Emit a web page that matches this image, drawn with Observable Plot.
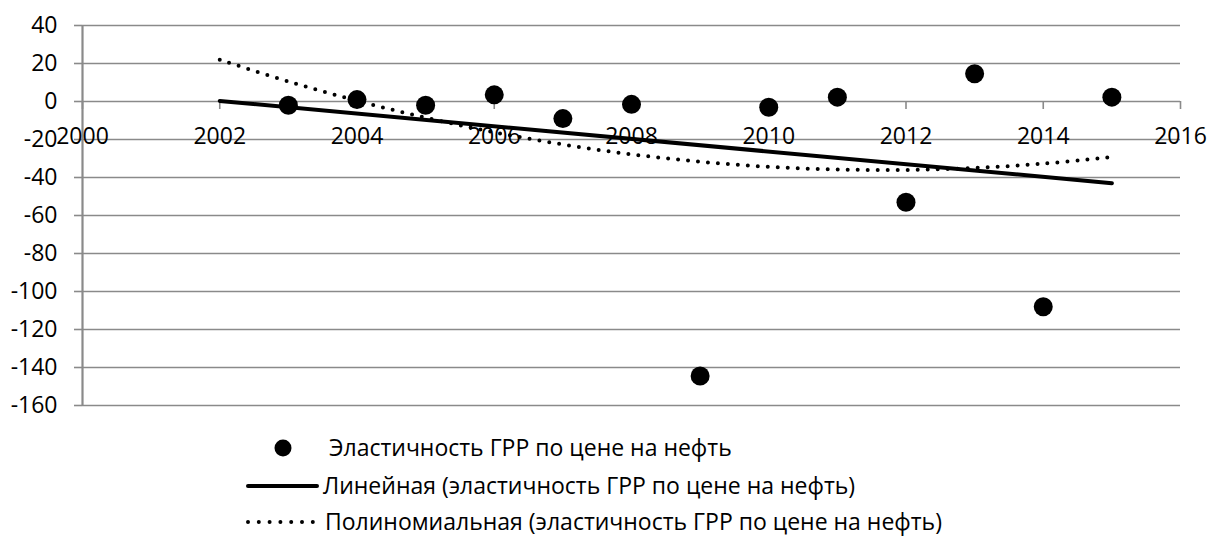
<!DOCTYPE html>
<html>
<head>
<meta charset="utf-8">
<script src="https://cdn.jsdelivr.net/npm/d3@7"></script>
<script src="https://cdn.jsdelivr.net/npm/@observablehq/plot@0.6"></script>
<style>
  html, body { margin: 0; padding: 0; background: #fff; }
  #chart { width: 1210px; height: 536px; position: relative; font-family: "Open Sans", sans-serif; overflow: hidden; }
</style>
</head>
<body>
<div id="chart"></div>
<script>
// Data
const years = [2003, 2004, 2005, 2006, 2007, 2008, 2009, 2010, 2011, 2012, 2013, 2014, 2015];
const elasticity = [-2, 1, -2, 3.5, -9, -1.5, -144.5, -3, 2.3, -53, 14.6, -108, 2.3];

// Linear trendline (endpoints)
const linearYears = [2002, 2015];
const linearValues = [0.3, -43];

// Polynomial trendline
const polyYears = [2002, 2003, 2004, 2005, 2006, 2007, 2008, 2009, 2010, 2011, 2012, 2013, 2014, 2015];
const polyValues = [22, 10.5, 0.4, -8.5, -16.2, -22.6, -27.8, -31.7, -34.4, -35.8, -36, -35, -32.7, -29.2];

const xTicks = [2000, 2002, 2004, 2006, 2008, 2010, 2012, 2014, 2016];
const yTicks = [40, 20, 0, -20, -40, -60, -80, -100, -120, -140, -160];

const legendLabels = [
  "Эластичность ГРР по цене на нефть",
  "Линейная (эластичность ГРР по цене на нефть)",
  "Полиномиальная (эластичность ГРР по цене на нефть)"
];

const points = years.map((y, i) => ({year: y, value: elasticity[i]}));
const linear = linearYears.map((y, i) => ({year: y, value: linearValues[i]}));
const poly = polyYears.map((y, i) => ({year: y, value: polyValues[i]}));

const grid = "#8a8a8a";
const fs = 23;

const plot = Plot.plot({
  width: 1210,
  height: 420,
  marginLeft: 82,
  marginRight: 30,
  marginTop: 25,
  marginBottom: 15,
  style: {fontFamily: "Open Sans, sans-serif", fontSize: fs + "px", color: "#000", background: "#fff"},
  x: {domain: [2000, 2016], axis: null},
  y: {domain: [-160, 40], axis: null},
  marks: [
    Plot.gridY(yTicks, {stroke: grid, strokeOpacity: 1, strokeWidth: 1.6}),
    Plot.axisY(yTicks, {anchor: "left", tickSize: 8, tickPadding: 17, stroke: grid, strokeWidth: 1.6, fill: "#000", fontSize: fs, label: null, tickFormat: d => String(d)}),
    Plot.ruleX([2000], {stroke: grid, strokeWidth: 2.2}),
    Plot.ruleX(xTicks, {x: d => d, y1: 0, y2: 0, insetBottom: -8, stroke: grid, strokeWidth: 1.6}),
    Plot.text(xTicks, {x: d => d, y: 0, text: d => String(d), dy: 35, fontSize: fs, fill: "#000"}),
    Plot.line(linear, {x: "year", y: "value", stroke: "#000", strokeWidth: 4}),
    Plot.line(poly, {x: "year", y: "value", curve: "catmull-rom", stroke: "#000", strokeWidth: 4, strokeDasharray: "0 10", strokeLinecap: "round"}),
    Plot.dot(points, {x: "year", y: "value", r: 9.5, fill: "#000", stroke: "none"})
  ]
});

const chart = document.getElementById("chart");
chart.appendChild(plot);

// Legend below the plot
const legend = d3.select(chart).append("svg")
  .attr("width", 1210).attr("height", 116)
  .style("display", "block")
  .style("font-family", "Open Sans, sans-serif")
  .style("font-size", fs + "px");

const rowY = [28, 66, 102];
const textX = [329, 323, 325];

const rows = legend.selectAll("g").data(legendLabels).join("g")
  .attr("transform", (d, i) => `translate(0, ${rowY[i]})`);

rows.filter((d, i) => i === 0).append("circle").attr("cx", 283).attr("cy", 0).attr("r", 8.5).attr("fill", "#000");
rows.filter((d, i) => i === 1).append("line").attr("x1", 248).attr("x2", 317).attr("y1", 0).attr("y2", 0)
  .attr("stroke", "#000").attr("stroke-width", 4).attr("stroke-linecap", "round");
rows.filter((d, i) => i === 2).append("line").attr("x1", 248).attr("x2", 313).attr("y1", 0).attr("y2", 0)
  .attr("stroke", "#000").attr("stroke-width", 4).attr("stroke-linecap", "round").attr("stroke-dasharray", "0 10.8");

rows.append("text")
  .attr("x", (d, i) => textX[i])
  .attr("y", 0)
  .attr("dy", "0.35em")
  .attr("fill", "#000")
  .text(d => d);
</script>
</body>
</html>
